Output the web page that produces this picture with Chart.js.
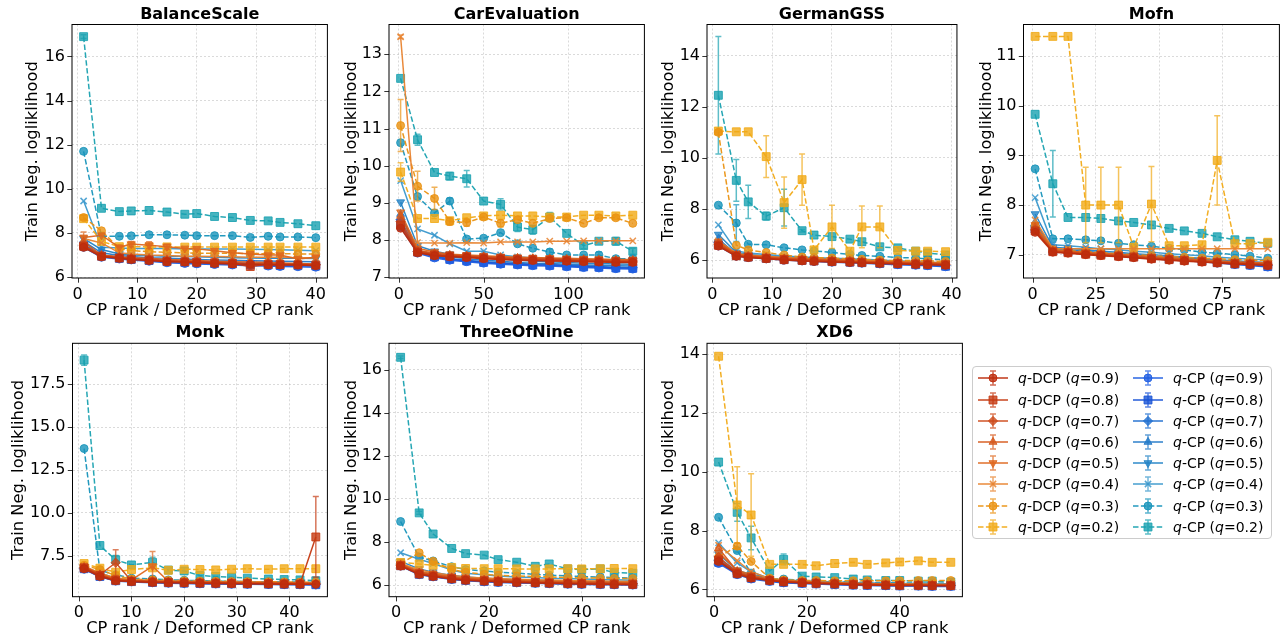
<!DOCTYPE html>
<html>
<head>
<meta charset="utf-8">
<script src="https://cdn.jsdelivr.net/npm/chart.js@4.4.0/dist/chart.umd.min.js"></script>
<style>
  body { margin: 0; background: #fff; width: 1286px; height: 641px; position: relative; overflow: hidden;
         font-family: "DejaVu Sans", sans-serif; }
  canvas.panel { position: absolute; }
  #legend { position: absolute; left: 972px; top: 366px; width: 300px; height: 173px; box-sizing: border-box;
            border: 1px solid #cccccc; border-radius: 4px; background: #fff; }
  .item { position: absolute; height: 18px; display: flex; align-items: center; font-size: 14px; color: #000;
          white-space: nowrap; }
  .item canvas { margin-right: 9px; }
</style>
</head>
<body>
<div id="legend"></div>
<script>
// ---- series: rows are q = 0.9 ... 0.2 ----
const qLabels = ['0.9', '0.8', '0.7', '0.6', '0.5', '0.4', '0.3', '0.2'];

// BalanceScale
const balanceX = [1, 4, 7, 9, 12, 15, 18, 20, 23, 26, 29, 32, 34, 37, 40];
const balanceDcp = [
  [7.35, 6.92, 6.85, 6.8, 6.75, 6.7, 6.68, 6.65, 6.62, 6.6, 6.58, 6.56, 6.55, 6.55, 6.52],
  [7.4, 6.95, 6.87, 6.82, 6.78, 6.72, 6.7, 6.68, 6.65, 6.62, 6.48, 6.58, 6.57, 6.56, 6.55],
  [7.45, 6.97, 6.9, 6.85, 6.8, 6.75, 6.72, 6.7, 6.68, 6.65, 6.62, 6.6, 6.6, 6.58, 6.57],
  [7.6, 7.0, 6.92, 6.88, 6.85, 6.8, 6.78, 6.75, 6.72, 6.7, 6.68, 6.66, 6.64, 6.62, 6.6],
  [7.8, 7.9, 7.35, 7.5, 7.45, 7.38, 7.3, 7.28, 7.2, 7.1, 7.05, 7.0, 7.0, 6.82, 6.9],
  [7.75, 7.55, 7.1, 7.05, 7.0, 6.98, 6.95, 6.95, 6.93, 6.92, 6.9, 6.9, 6.9, 6.88, 6.88],
  [8.7, 8.1, 7.3, 7.2, 7.15, 7.12, 7.1, 7.08, 7.08, 7.08, 7.07, 7.06, 7.06, 7.05, 7.05],
  [8.65, 7.62, 7.38, 7.38, 7.37, 7.37, 7.36, 7.36, 7.36, 7.36, 7.36, 7.36, 7.36, 7.36, 7.36]
];
const balanceCp = [
  [7.35, 6.9, 6.82, 6.78, 6.72, 6.65, 6.62, 6.6, 6.57, 6.55, 6.52, 6.5, 6.48, 6.47, 6.45],
  [7.42, 6.95, 6.85, 6.8, 6.75, 6.7, 6.67, 6.65, 6.62, 6.6, 6.57, 6.55, 6.53, 6.52, 6.5],
  [7.5, 7.0, 6.9, 6.85, 6.8, 6.75, 6.72, 6.7, 6.68, 6.65, 6.62, 6.6, 6.6, 6.58, 6.57],
  [7.62, 7.1, 6.98, 6.93, 6.88, 6.85, 6.82, 6.8, 6.78, 6.76, 6.74, 6.73, 6.72, 6.71, 6.7],
  [7.75, 7.25, 7.05, 7.0, 6.98, 6.95, 6.93, 6.92, 6.9, 6.88, 6.87, 6.86, 6.85, 6.85, 6.84],
  [9.45, 7.35, 7.32, 7.3, 7.3, 7.3, 7.28, 7.28, 7.27, 7.27, 7.26, 7.25, 7.24, 7.22, 7.2],
  [11.7, 7.85, 7.85, 7.87, 7.92, 7.92, 7.9, 7.88, 7.88, 7.88, 7.8, 7.85, 7.82, 7.82, 7.79],
  [16.9, 9.12, 8.97, 9.0, 9.02, 8.95, 8.85, 8.88, 8.75, 8.7, 8.57, 8.55, 8.48, 8.42, 8.33]
];
// [series (0-7 q-DCP, 8-15 q-CP), point, std]
const balanceErr = [[4, 0, 0.25], [4, 3, 0.12], [4, 4, 0.15], [4, 5, 0.12], [6, 0, 0.1], [15, 0, 0.08]];

// CarEvaluation
const carX = [1, 11, 21, 30, 40, 50, 60, 70, 79, 89, 99, 109, 118, 128, 138];
const carDcp = [
  [8.32, 7.66, 7.58, 7.55, 7.53, 7.5, 7.48, 7.46, 7.45, 7.44, 7.43, 7.42, 7.41, 7.4, 7.4],
  [8.4, 7.68, 7.6, 7.57, 7.55, 7.52, 7.5, 7.48, 7.47, 7.46, 7.45, 7.44, 7.43, 7.42, 7.42],
  [8.5, 7.7, 7.62, 7.58, 7.56, 7.54, 7.52, 7.5, 7.49, 7.48, 7.47, 7.46, 7.45, 7.44, 7.44],
  [8.65, 7.72, 7.65, 7.6, 7.58, 7.56, 7.54, 7.52, 7.51, 7.5, 7.49, 7.48, 7.47, 7.46, 7.46],
  [8.75, 7.78, 7.68, 7.62, 7.6, 7.58, 7.56, 7.54, 7.53, 7.52, 7.51, 7.5, 7.49, 7.48, 7.48],
  [13.47, 7.93, 7.92, 7.92, 7.93, 7.92, 7.95, 7.95, 7.95, 7.97, 7.97, 7.98, 7.98, 7.98, 7.98],
  [11.08, 9.45, 9.12, 8.5, 8.47, 8.62, 8.45, 8.55, 8.45, 8.58, 8.6, 8.45, 8.6, 8.6, 8.45],
  [9.83, 8.58, 8.58, 8.52, 8.6, 8.65, 8.67, 8.65, 8.65, 8.62, 8.62, 8.67, 8.67, 8.65, 8.67]
];
const carCp = [
  [8.35, 7.65, 7.52, 7.46, 7.42, 7.38, 7.35, 7.33, 7.31, 7.3, 7.28, 7.26, 7.25, 7.23, 7.22],
  [8.45, 7.68, 7.55, 7.48, 7.44, 7.4, 7.37, 7.35, 7.33, 7.32, 7.3, 7.28, 7.27, 7.25, 7.24],
  [8.55, 7.7, 7.58, 7.5, 7.46, 7.42, 7.39, 7.37, 7.35, 7.34, 7.32, 7.3, 7.29, 7.27, 7.26],
  [8.7, 7.72, 7.62, 7.55, 7.5, 7.46, 7.43, 7.4, 7.38, 7.37, 7.35, 7.33, 7.32, 7.31, 7.3],
  [9.02, 7.85, 7.7, 7.62, 7.56, 7.52, 7.49, 7.46, 7.44, 7.42, 7.4, 7.38, 7.37, 7.36, 7.35],
  [9.6, 8.3, 8.13, 7.9, 7.7, 7.7, 7.6, 7.55, 7.52, 7.5, 7.48, 7.46, 7.44, 7.42, 7.4],
  [10.62, 9.17, 8.73, 9.05, 8.03, 8.05, 8.2, 7.9, 7.78, 7.68, 7.6, 7.6, 7.6, 7.5, 7.5],
  [12.35, 10.7, 9.82, 9.72, 9.65, 9.05, 8.96, 8.35, 8.28, 8.62, 8.18, 7.85, 7.97, 7.97, 7.7]
];
const carErr = [[6, 0, 0.7], [6, 1, 0.4], [6, 2, 0.3], [6, 3, 0.1], [6, 4, 0.1], [6, 6, 0.1], [7, 0, 0.25],
  [5, 0, 0.05], [15, 1, 0.15], [15, 3, 0.1], [15, 4, 0.22], [15, 6, 0.15], [15, 7, 0.12], [15, 8, 0.12],
  [15, 9, 0.12], [15, 11, 0.08], [15, 13, 0.1], [15, 14, 0.08], [14, 3, 0.08], [14, 9, 0.08], [14, 12, 0.08]];

// GermanGSS
const germanX = [1, 4, 6, 9, 12, 15, 17, 20, 23, 25, 28, 31, 34, 36, 39];
const germanDcp = [
  [6.55, 6.15, 6.1, 6.05, 6.0, 5.97, 5.95, 5.93, 5.91, 5.89, 5.87, 5.85, 5.83, 5.82, 5.8],
  [6.58, 6.17, 6.12, 6.07, 6.02, 5.99, 5.97, 5.95, 5.93, 5.91, 5.89, 5.87, 5.85, 5.84, 5.82],
  [6.62, 6.19, 6.14, 6.09, 6.04, 6.01, 5.99, 5.97, 5.95, 5.93, 5.91, 5.89, 5.87, 5.86, 5.84],
  [6.68, 6.21, 6.16, 6.11, 6.06, 6.03, 6.01, 5.99, 5.97, 5.95, 5.93, 5.91, 5.89, 5.88, 5.86],
  [6.72, 6.23, 6.18, 6.13, 6.08, 6.05, 6.03, 6.01, 5.99, 5.97, 5.95, 5.93, 5.91, 5.9, 5.88],
  [6.75, 6.26, 6.2, 6.15, 6.1, 6.07, 6.05, 6.03, 6.01, 5.99, 5.97, 5.95, 5.93, 5.92, 5.9],
  [11.0, 6.58, 6.4, 6.3, 6.2, 6.12, 6.1, 6.08, 6.05, 6.03, 6.0, 5.98, 5.98, 5.97, 5.95],
  [11.05, 11.02, 11.02, 10.05, 8.25, 9.15, 6.4, 7.3, 6.35, 7.3, 7.3, 6.38, 6.35, 6.35, 6.33]
];
const germanCp = [
  [6.55, 6.15, 6.1, 6.05, 6.0, 5.97, 5.95, 5.92, 5.9, 5.88, 5.85, 5.82, 5.8, 5.78, 5.74],
  [6.6, 6.18, 6.12, 6.07, 6.02, 5.99, 5.97, 5.94, 5.92, 5.9, 5.87, 5.84, 5.82, 5.8, 5.76],
  [6.68, 6.2, 6.15, 6.1, 6.05, 6.02, 6.0, 5.97, 5.95, 5.93, 5.9, 5.87, 5.85, 5.83, 5.79],
  [6.82, 6.24, 6.18, 6.13, 6.08, 6.05, 6.03, 6.0, 5.98, 5.96, 5.93, 5.9, 5.88, 5.86, 5.82],
  [7.0, 6.3, 6.22, 6.16, 6.12, 6.08, 6.06, 6.03, 6.01, 5.99, 5.96, 5.93, 5.91, 5.89, 5.85],
  [7.38, 6.36, 6.28, 6.22, 6.16, 6.12, 6.1, 6.07, 6.05, 6.03, 6.0, 5.97, 5.95, 5.93, 5.88],
  [8.15, 7.45, 6.62, 6.6, 6.48, 6.4, 6.36, 6.3, 6.22, 6.18, 6.15, 6.1, 6.08, 6.05, 6.02],
  [12.45, 9.12, 8.28, 7.72, 8.05, 7.15, 6.98, 6.92, 6.82, 6.72, 6.52, 6.48, 6.35, 6.28, 6.2]
];
const germanErr = [[15, 0, 2.3], [15, 1, 0.82], [15, 2, 0.65], [15, 3, 0.15], [15, 4, 0.72], [15, 5, 0.05],
  [14, 1, 0.72], [7, 0, 0.05], [7, 3, 0.82], [7, 4, 1.0], [7, 5, 1.0], [7, 7, 0.85], [7, 9, 0.82], [7, 10, 0.82]];

// Mofn
const mofnX = [1, 8, 14, 21, 27, 34, 40, 47, 54, 60, 67, 73, 80, 86, 93];
const mofnDcp = [
  [7.45, 7.05, 7.03, 7.0, 6.98, 6.96, 6.94, 6.91, 6.89, 6.87, 6.85, 6.83, 6.81, 6.8, 6.78],
  [7.48, 7.06, 7.04, 7.01, 6.99, 6.97, 6.95, 6.92, 6.9, 6.88, 6.86, 6.84, 6.82, 6.81, 6.79],
  [7.5, 7.07, 7.05, 7.02, 7.0, 6.98, 6.96, 6.93, 6.91, 6.89, 6.87, 6.85, 6.83, 6.82, 6.8],
  [7.55, 7.08, 7.06, 7.03, 7.01, 6.99, 6.97, 6.94, 6.92, 6.9, 6.88, 6.86, 6.84, 6.83, 6.81],
  [7.6, 7.1, 7.07, 7.05, 7.03, 7.01, 6.99, 6.96, 6.94, 6.92, 6.9, 6.88, 6.86, 6.85, 6.83],
  [7.7, 7.12, 7.12, 7.12, 7.12, 7.12, 7.12, 7.12, 7.12, 7.12, 7.12, 7.12, 7.12, 7.12, 7.12],
  [7.58, 7.1, 7.08, 7.06, 7.04, 7.02, 7.0, 6.98, 6.96, 6.95, 6.93, 6.92, 6.9, 6.89, 6.88],
  [11.4, 11.4, 11.4, 8.0, 8.0, 8.0, 7.15, 8.02, 7.18, 7.18, 7.2, 8.9, 7.22, 7.22, 7.25]
];
const mofnCp = [
  [7.48, 7.07, 7.05, 7.02, 7.0, 6.97, 6.95, 6.92, 6.9, 6.88, 6.86, 6.83, 6.8, 6.78, 6.75],
  [7.52, 7.08, 7.06, 7.03, 7.01, 6.98, 6.96, 6.93, 6.91, 6.89, 6.87, 6.84, 6.81, 6.79, 6.76],
  [7.58, 7.1, 7.08, 7.05, 7.02, 7.0, 6.98, 6.95, 6.93, 6.91, 6.89, 6.86, 6.83, 6.81, 6.78],
  [7.65, 7.12, 7.1, 7.07, 7.04, 7.02, 7.0, 6.97, 6.95, 6.93, 6.91, 6.88, 6.85, 6.83, 6.8],
  [7.82, 7.15, 7.13, 7.1, 7.07, 7.05, 7.02, 7.0, 6.98, 6.95, 6.93, 6.9, 6.88, 6.86, 6.84],
  [8.15, 7.2, 7.18, 7.15, 7.12, 7.1, 7.07, 7.05, 7.02, 7.0, 6.98, 6.95, 6.93, 6.91, 6.9],
  [8.73, 7.32, 7.32, 7.3, 7.28, 7.23, 7.2, 7.17, 7.13, 7.1, 7.05, 7.03, 7.0, 6.97, 6.93],
  [9.83, 8.43, 7.75, 7.75, 7.73, 7.68, 7.65, 7.6, 7.53, 7.48, 7.43, 7.36, 7.3, 7.27, 7.23]
];
const mofnErr = [[7, 3, 0.76], [7, 4, 0.76], [7, 5, 0.76], [7, 7, 0.76], [7, 11, 0.9], [15, 1, 0.67]];

// Monk
const monkX = [1, 4, 7, 10, 14, 17, 20, 23, 26, 29, 32, 36, 39, 42, 45];
const monkDcp = [
  [6.75, 6.3, 6.05, 6.0, 5.95, 5.93, 5.92, 5.9, 5.89, 5.88, 5.87, 5.86, 5.85, 5.85, 5.84],
  [6.8, 6.35, 6.08, 6.02, 5.98, 5.96, 5.94, 5.92, 5.91, 5.9, 5.89, 5.88, 5.87, 5.86, 8.6],
  [6.82, 6.4, 7.1, 6.05, 6.0, 5.98, 5.96, 5.94, 5.93, 5.92, 5.91, 5.9, 5.89, 5.88, 5.87],
  [6.85, 6.42, 6.12, 6.07, 6.02, 6.0, 5.98, 5.96, 5.95, 5.94, 5.93, 5.92, 5.91, 5.9, 5.89],
  [6.88, 6.45, 6.15, 6.1, 6.9, 6.02, 6.0, 5.98, 5.97, 5.96, 5.95, 5.94, 5.93, 5.92, 5.91],
  [6.9, 6.5, 6.2, 6.12, 6.06, 6.04, 6.02, 6.0, 5.99, 5.98, 5.97, 5.96, 5.95, 5.94, 5.93],
  [6.95, 6.7, 6.35, 6.15, 6.1, 6.07, 6.05, 6.03, 6.02, 6.01, 6.0, 5.99, 5.98, 5.97, 5.96],
  [7.05, 6.78, 6.55, 6.7, 6.8, 6.66, 6.72, 6.7, 6.68, 6.72, 6.75, 6.72, 6.75, 6.75, 6.75]
];
const monkCp = [
  [6.72, 6.28, 6.03, 5.98, 5.93, 5.91, 5.89, 5.87, 5.86, 5.85, 5.84, 5.83, 5.82, 5.81, 5.8],
  [6.75, 6.3, 6.05, 6.0, 5.95, 5.93, 5.91, 5.89, 5.88, 5.87, 5.86, 5.85, 5.84, 5.83, 5.82],
  [6.78, 6.33, 6.07, 6.02, 5.97, 5.95, 5.93, 5.91, 5.9, 5.89, 5.88, 5.87, 5.86, 5.85, 5.84],
  [6.8, 6.38, 6.1, 6.04, 5.99, 5.97, 5.95, 5.93, 5.92, 5.91, 5.9, 5.89, 5.88, 5.87, 5.86],
  [6.82, 6.42, 6.13, 6.06, 6.01, 5.99, 5.97, 5.95, 5.94, 5.93, 5.92, 5.91, 5.9, 5.89, 5.88],
  [6.85, 6.5, 6.2, 6.1, 6.04, 6.02, 6.0, 5.98, 5.97, 5.96, 5.95, 5.94, 5.93, 5.92, 5.91],
  [13.75, 6.65, 6.4, 6.2, 6.15, 6.1, 6.08, 6.05, 6.03, 6.02, 6.0, 5.99, 5.98, 5.97, 5.96],
  [18.9, 8.1, 7.27, 6.97, 7.12, 6.67, 6.62, 6.35, 6.3, 6.25, 6.2, 6.15, 6.12, 6.1, 6.05]
];
const monkErr = [[15, 0, 0.3], [15, 2, 0.25], [15, 4, 0.3], [1, 14, 2.35], [2, 2, 0.75], [4, 4, 0.85]];

// ThreeOfNine
const threeX = [1, 5, 8, 12, 15, 19, 22, 26, 30, 33, 37, 40, 44, 47, 51];
const threeDcp = [
  [6.88, 6.5, 6.4, 6.28, 6.22, 6.18, 6.15, 6.12, 6.1, 6.08, 6.06, 6.05, 6.04, 6.03, 6.02],
  [6.9, 6.52, 6.42, 6.3, 6.24, 6.2, 6.17, 6.14, 6.12, 6.1, 6.08, 6.07, 6.06, 6.05, 6.04],
  [6.92, 6.55, 6.45, 6.33, 6.27, 6.22, 6.19, 6.16, 6.14, 6.12, 6.1, 6.09, 6.08, 6.07, 6.06],
  [6.95, 6.58, 6.48, 6.36, 6.3, 6.25, 6.22, 6.19, 6.17, 6.15, 6.13, 6.12, 6.11, 6.1, 6.09],
  [6.97, 6.62, 6.52, 6.4, 6.33, 6.28, 6.25, 6.22, 6.2, 6.18, 6.16, 6.15, 6.14, 6.13, 6.12],
  [7.0, 6.7, 6.58, 6.45, 6.38, 6.33, 6.3, 6.27, 6.25, 6.23, 6.21, 6.2, 6.19, 6.18, 6.17],
  [7.0, 7.5, 7.1, 6.72, 6.6, 6.5, 6.45, 6.42, 6.4, 6.38, 6.35, 6.33, 6.32, 6.31, 6.3],
  [7.05, 6.98, 6.92, 6.82, 6.77, 6.76, 6.76, 6.75, 6.75, 6.75, 6.76, 6.75, 6.76, 6.77, 6.76]
];
const threeCp = [
  [6.88, 6.48, 6.38, 6.26, 6.2, 6.15, 6.12, 6.1, 6.08, 6.06, 6.04, 6.03, 6.02, 6.01, 6.0],
  [6.9, 6.5, 6.4, 6.28, 6.22, 6.17, 6.14, 6.12, 6.1, 6.08, 6.06, 6.05, 6.04, 6.03, 6.02],
  [6.93, 6.55, 6.45, 6.32, 6.26, 6.2, 6.17, 6.15, 6.13, 6.11, 6.09, 6.08, 6.07, 6.06, 6.05],
  [6.98, 6.62, 6.5, 6.37, 6.3, 6.25, 6.22, 6.19, 6.17, 6.15, 6.13, 6.12, 6.11, 6.1, 6.09],
  [7.1, 6.75, 6.6, 6.45, 6.38, 6.32, 6.28, 6.25, 6.22, 6.2, 6.18, 6.17, 6.16, 6.15, 6.14],
  [7.5, 7.2, 7.0, 6.7, 6.55, 6.48, 6.42, 6.38, 6.35, 6.32, 6.3, 6.28, 6.26, 6.25, 6.22],
  [8.95, 7.3, 7.12, 6.85, 6.72, 6.66, 6.6, 6.55, 6.5, 6.46, 6.42, 6.4, 6.37, 6.35, 6.32],
  [16.57, 9.35, 8.37, 7.7, 7.46, 7.39, 7.18, 7.06, 6.87, 6.98, 6.75, 6.72, 6.75, 6.58, 6.55]
];
const threeErr = [[15, 0, 0.06], [15, 1, 0.06]];

// XD6
const xd6X = [1, 5, 8, 12, 15, 19, 22, 26, 30, 33, 37, 40, 44, 47, 51];
const xd6Dcp = [
  [6.95, 6.52, 6.38, 6.3, 6.25, 6.22, 6.2, 6.18, 6.16, 6.15, 6.14, 6.13, 6.13, 6.12, 6.12],
  [7.0, 6.55, 6.4, 6.31, 6.26, 6.23, 6.21, 6.19, 6.17, 6.16, 6.15, 6.14, 6.14, 6.13, 6.13],
  [7.1, 6.58, 6.42, 6.32, 6.27, 6.24, 6.22, 6.2, 6.18, 6.17, 6.16, 6.15, 6.15, 6.14, 6.14],
  [7.4, 6.62, 6.45, 6.33, 6.28, 6.25, 6.23, 6.21, 6.19, 6.18, 6.17, 6.16, 6.16, 6.15, 6.15],
  [7.25, 6.65, 6.5, 6.34, 6.29, 6.26, 6.24, 6.22, 6.2, 6.19, 6.18, 6.17, 6.17, 6.16, 6.16],
  [7.5, 6.98, 6.6, 6.36, 6.3, 6.27, 6.25, 6.23, 6.21, 6.2, 6.19, 6.18, 6.18, 6.17, 6.17],
  [7.1, 7.47, 6.95, 6.38, 6.32, 6.3, 6.3, 6.29, 6.29, 6.29, 6.29, 6.29, 6.3, 6.3, 6.3],
  [13.93, 8.87, 8.53, 6.85, 6.85, 6.85, 6.8, 6.88, 6.92, 6.85, 6.9, 6.93, 6.97, 6.92, 6.92]
];
const xd6Cp = [
  [6.88, 6.5, 6.35, 6.27, 6.22, 6.2, 6.18, 6.16, 6.14, 6.13, 6.12, 6.11, 6.11, 6.1, 6.1],
  [6.92, 6.53, 6.38, 6.29, 6.24, 6.21, 6.19, 6.17, 6.15, 6.14, 6.13, 6.12, 6.12, 6.11, 6.11],
  [6.97, 6.56, 6.41, 6.31, 6.26, 6.23, 6.21, 6.19, 6.17, 6.16, 6.15, 6.14, 6.14, 6.13, 6.13],
  [7.05, 6.6, 6.45, 6.33, 6.28, 6.25, 6.23, 6.21, 6.19, 6.18, 6.17, 6.16, 6.16, 6.15, 6.15],
  [7.2, 6.65, 6.5, 6.35, 6.3, 6.27, 6.25, 6.23, 6.21, 6.2, 6.19, 6.18, 6.18, 6.17, 6.17],
  [7.58, 6.9, 6.6, 6.37, 6.32, 6.29, 6.27, 6.25, 6.23, 6.22, 6.21, 6.2, 6.2, 6.19, 6.19],
  [8.45, 7.32, 6.55, 6.35, 6.35, 6.3, 6.28, 6.26, 6.25, 6.24, 6.23, 6.22, 6.22, 6.21, 6.2],
  [10.33, 8.62, 7.75, 6.62, 7.02, 6.45, 6.42, 6.4, 6.35, 6.32, 6.3, 6.3, 6.28, 6.28, 6.25]
];
const xd6Err = [[7, 1, 1.3], [7, 2, 1.4], [15, 1, 0.3], [15, 2, 0.4], [15, 4, 0.18], [6, 1, 0.1], [14, 1, 0.05]];

// axis ranges and ticks
const panels = [
  { title: 'BalanceScale', x: balanceX, dcp: balanceDcp, cp: balanceCp, err: balanceErr,
    xLim: [-0.95, 41.95], yLim: [5.96, 17.45], xTicks: [0, 10, 20, 30, 40], yTicks: [6, 8, 10, 12, 14, 16], dec: 0 },
  { title: 'CarEvaluation', x: carX, dcp: carDcp, cp: carCp, err: carErr,
    xLim: [-5.85, 144.85], yLim: [6.98, 13.8], xTicks: [0, 50, 100], yTicks: [7, 8, 9, 10, 11, 12, 13], dec: 0 },
  { title: 'GermanGSS', x: germanX, dcp: germanDcp, cp: germanCp, err: germanErr,
    xLim: [-0.9, 40.9], yLim: [5.3, 15.22], xTicks: [0, 10, 20, 30, 40], yTicks: [6, 8, 10, 12, 14], dec: 0 },
  { title: 'Mofn', x: mofnX, dcp: mofnDcp, cp: mofnCp, err: mofnErr,
    xLim: [-3.6, 97.6], yLim: [6.53, 11.64], xTicks: [0, 25, 50, 75], yTicks: [7, 8, 9, 10, 11], dec: 0 },
  { title: 'Monk', x: monkX, dcp: monkDcp, cp: monkCp, err: monkErr,
    xLim: [-1.2, 47.2], yLim: [5.12, 19.88], xTicks: [0, 10, 20, 30, 40], yTicks: [7.5, 10, 12.5, 15, 17.5], dec: 1 },
  { title: 'ThreeOfNine', x: threeX, dcp: threeDcp, cp: threeCp, err: threeErr,
    xLim: [-1.5, 53.5], yLim: [5.46, 17.22], xTicks: [0, 20, 40], yTicks: [6, 8, 10, 12, 14, 16], dec: 0 },
  { title: 'XD6', x: xd6X, dcp: xd6Dcp, cp: xd6Cp, err: xd6Err,
    xLim: [-1.5, 53.5], yLim: [5.75, 14.37], xTicks: [0, 20, 40], yTicks: [6, 8, 10, 12, 14], dec: 0 }
];

// ---- styling ----
const dcpColors = ['#bd2c0c', '#c53a12', '#cd4a1a', '#d6581b', '#de671d', '#e8832f', '#ea9212', '#f1aa17'];
const cpColors = ['#1f5ee2', '#1752d6', '#206fd0', '#2279c8', '#2383c6', '#3a98cc', '#1794ba', '#19a1b0'];
const markers = ['circle', 'rect', 'rectRot', 'triangle', 'triangle', 'crossRot', 'circle', 'rect'];
const markerTurn = [0, 0, 0, 0, 180, 0, 0, 0];
const markerSize = [4, 5.6, 4.6, 4.6, 4.6, 4.4, 4, 5.6];

// plot rectangles: left, top, right, bottom, y-title centre
const boxes = [
  [72, 24.5, 330.5, 278, 33], [388.5, 24.5, 647, 278, 351.5], [706.5, 24.5, 965, 278, 668.5],
  [1023.5, 24.5, 1282.5, 278, 987], [72, 343.3, 330.5, 596.7, 18.5], [388.5, 343.3, 647, 596.7, 351.5],
  [706.5, 343.3, 965, 596.7, 668.5]
];

Chart.defaults.font.family = "'DejaVu Sans', sans-serif";
Chart.defaults.color = '#000';

function alpha(hex, a) {
  const n = parseInt(hex.slice(1), 16);
  return `rgba(${n >> 16},${(n >> 8) & 255},${n & 255},${a})`;
}

const errorBars = {
  id: 'errorBars',
  beforeDatasetDraw(chart, args) {
    const ds = chart.data.datasets[args.index];
    const {ctx, chartArea: a, scales: {x, y}} = chart;
    ctx.save();
    ctx.beginPath();
    ctx.rect(a.left, a.top, a.right - a.left, a.bottom - a.top);
    ctx.clip();
    ctx.strokeStyle = ds.errColor;
    ctx.lineWidth = 1.5;
    ds.data.forEach((p, k) => {
      const e = ds.errors[k];
      if (!e) return;
      const px = x.getPixelForValue(p.x);
      const lo = y.getPixelForValue(p.y - e), hi = y.getPixelForValue(p.y + e);
      ctx.beginPath();
      ctx.moveTo(px, lo); ctx.lineTo(px, hi);
      ctx.moveTo(px - 3, lo); ctx.lineTo(px + 3, lo);
      ctx.moveTo(px - 3, hi); ctx.lineTo(px + 3, hi);
      ctx.stroke();
    });
    ctx.restore();
  }
};

// axes frame and outward tick marks
const frame = {
  id: 'frame',
  afterDraw(chart) {
    const {ctx, chartArea: a, scales: {x, y}} = chart;
    ctx.save();
    ctx.strokeStyle = '#000';
    ctx.lineWidth = 0.8;
    ctx.beginPath();
    x.ticks.forEach(t => {
      const px = Math.round(x.getPixelForValue(t.value)) + 0.5;
      ctx.moveTo(px, a.bottom); ctx.lineTo(px, a.bottom + 4.7);
    });
    y.ticks.forEach(t => {
      const py = Math.round(y.getPixelForValue(t.value)) + 0.5;
      ctx.moveTo(a.left - 4.7, py); ctx.lineTo(a.left, py);
    });
    ctx.stroke();
    ctx.lineWidth = 1;
    ctx.strokeRect(a.left, a.top, a.right - a.left, a.bottom - a.top);
    ctx.restore();
  }
};

function buildDatasets(p) {
  return p.dcp.concat(p.cp).map((ys, i) => {
    const q = i % 8;
    const col = (i < 8 ? dcpColors : cpColors)[q];
    const errors = ys.map(() => 0);
    p.err.filter(e => e[0] === i).forEach(e => { errors[e[1]] = e[2]; });
    return {
      label: `q-${i < 8 ? 'DCP' : 'CP'} (q=${qLabels[q]})`,
      data: p.x.map((xv, k) => ({x: xv, y: ys[k]})),
      errors,
      errColor: alpha(col, 0.7),
      borderColor: alpha(col, 0.95),
      borderWidth: 1.5,
      borderDash: q >= 6 ? [5.5, 2.4] : [],
      tension: 0,
      fill: false,
      pointStyle: markers[q],
      pointRotation: markerTurn[q],
      pointRadius: markerSize[q],
      pointBackgroundColor: alpha(col, 0.8),
      pointBorderColor: alpha(col, 0.85),
      pointBorderWidth: markers[q] === 'crossRot' ? 1.5 : 1
    };
  });
}

panels.forEach((p, idx) => {
  const [pl, pt, pr, pb, yTitleX] = boxes[idx];
  const rowTop = idx < 4 ? 0 : 320;
  const rowBottom = idx < 4 ? 320 : 641;
  const left = yTitleX - 11;
  const width = pr + 3 - left;
  const height = rowBottom - rowTop;

  const cv = document.createElement('canvas');
  cv.className = 'panel';
  cv.width = Math.round(width);
  cv.height = height;
  cv.style.left = left + 'px';
  cv.style.top = rowTop + 'px';
  document.body.appendChild(cv);

  const grid = { color: 'rgba(176,176,176,0.6)', lineWidth: 0.8, drawTicks: false };
  const border = { display: false, dash: [2, 2] };

  new Chart(cv, {
    type: 'line',
    data: { datasets: buildDatasets(p) },
    plugins: [errorBars, frame],
    options: {
      responsive: false,
      animation: false,
      devicePixelRatio: 1,
      layout: { padding: { left: 0, right: cv.width - (pr - left), top: 0, bottom: 0 } },
      plugins: {
        legend: { display: false },
        tooltip: { enabled: false },
        title: {
          display: true, text: p.title, fullSize: false, color: '#000',
          font: { size: 16, weight: 'bold' },
          padding: { top: pt - rowTop - 19.6, bottom: 0.4 }
        }
      },
      scales: {
        x: {
          type: 'linear', min: p.xLim[0], max: p.xLim[1],
          afterBuildTicks: s => { s.ticks = p.xTicks.map(v => ({ value: v })); },
          afterFit: s => { s.height = rowBottom - pb; },
          grid, border,
          ticks: { font: { size: 16 }, padding: 7, maxRotation: 0, autoSkip: false, color: '#000',
                   callback: v => String(v) },
          title: { display: true, text: 'CP rank / Deformed CP rank', color: '#000', font: { size: 16.3 },
                   padding: { top: 0, bottom: rowBottom - pb - 32.3 - 9.8 } }
        },
        y: {
          type: 'linear', min: p.yLim[0], max: p.yLim[1],
          afterBuildTicks: s => { s.ticks = p.yTicks.map(v => ({ value: v })); },
          afterFit: s => { s.width = pl - left; },
          grid, border,
          ticks: { font: { size: 16 }, padding: 7, autoSkip: false, color: '#000',
                   callback: v => v.toFixed(p.dec) },
          title: { display: true, text: 'Train Neg. logliklihood', color: '#000', font: { size: 16.3 },
                   padding: { top: 1.2, bottom: 0 } }
        }
      }
    }
  });
});

// two-column legend
(function () {
  const box = document.getElementById('legend');
  [dcpColors, cpColors].forEach((cols, c) => {
    qLabels.forEach((q, r) => {
      const item = document.createElement('div');
      item.className = 'item';
      item.style.left = (c ? 159 : 4) + 'px';
      item.style.top = (2.3 + r * 21.2) + 'px';
      const cv = document.createElement('canvas');
      cv.width = 32; cv.height = 18;
      const ctx = cv.getContext('2d');
      const col = cols[r];
      ctx.strokeStyle = alpha(col, 0.7);
      ctx.lineWidth = 1.5;
      ctx.beginPath();
      ctx.moveTo(16, 2); ctx.lineTo(16, 16);
      ctx.moveTo(13, 2); ctx.lineTo(19, 2);
      ctx.moveTo(13, 16); ctx.lineTo(19, 16);
      ctx.stroke();
      ctx.strokeStyle = alpha(col, 0.95);
      ctx.setLineDash(r >= 6 ? [5.5, 2.4] : []);
      ctx.beginPath();
      ctx.moveTo(1, 9); ctx.lineTo(31, 9);
      ctx.stroke();
      ctx.setLineDash([]);
      ctx.fillStyle = alpha(col, 0.8);
      ctx.strokeStyle = alpha(col, 0.85);
      ctx.lineWidth = markers[r] === 'crossRot' ? 1.5 : 1;
      Chart.helpers.drawPoint(ctx, { pointStyle: markers[r], rotation: markerTurn[r], radius: markerSize[r],
                                     borderWidth: ctx.lineWidth }, 16, 9);
      item.appendChild(cv);
      const span = document.createElement('span');
      span.innerHTML = `<i>q</i>-${c ? 'CP' : 'DCP'} (<i>q</i>=${q})`;
      item.appendChild(span);
      box.appendChild(item);
    });
  });
})();
</script>
</body>
</html>
